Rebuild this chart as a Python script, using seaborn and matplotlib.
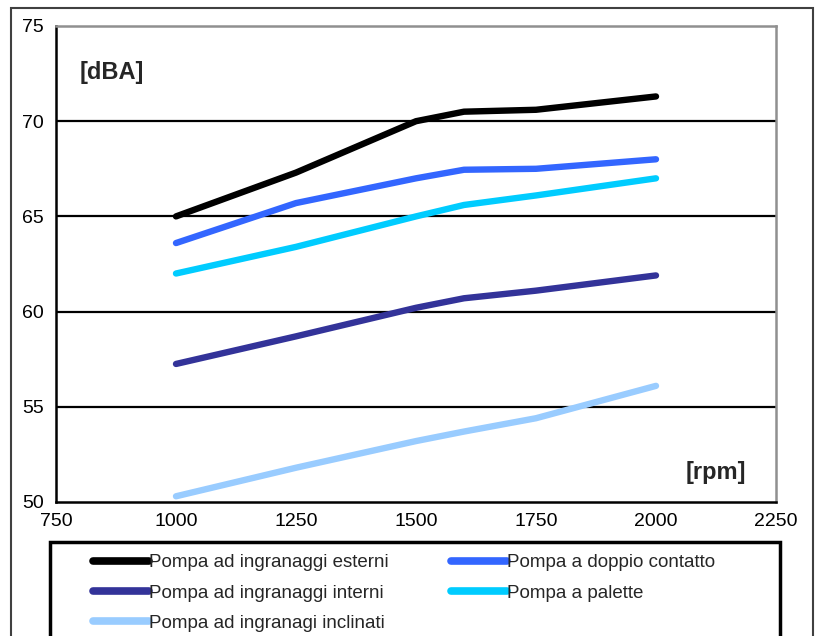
import numpy as np
import pandas as pd
import matplotlib
matplotlib.use("Agg")
import matplotlib.pyplot as plt
from matplotlib.patches import Rectangle
from matplotlib.lines import Line2D
import seaborn as sns

# %% data
rpm = [1000, 1250, 1500, 1600, 1750, 2000]
esterni = [65.0, 67.3, 70.0, 70.5, 70.6, 71.3]
doppio = [63.6, 65.7, 67.0, 67.45, 67.5, 68.0]
interni = [57.25, 58.7, 60.2, 60.7, 61.1, 61.9]
palette_v = [62.0, 63.4, 65.0, 65.6, 66.1, 67.0]
inclinati = [50.3, 51.8, 53.2, 53.7, 54.4, 56.1]

names = ['Pompa ad ingranaggi esterni', 'Pompa a doppio contatto',
         'Pompa ad ingranaggi interni', 'Pompa a palette',
         'Pompa ad ingranagi inclinati']
colors = ['#000000', '#3366FF', '#333399', '#00CCFF', '#99CCFF']
series = [esterni, doppio, interni, palette_v, inclinati]

df = pd.concat([pd.DataFrame({'rpm': rpm, 'dBA': s, 'pompa': n})
                for n, s in zip(names, series)], ignore_index=True)

# %% plot
sns.set_style('white')
plt.rcParams['font.family'] = ['Liberation Sans', 'DejaVu Sans']

fig = plt.figure(figsize=(8.18, 6.36), dpi=100)
ax = fig.add_axes([56/818, 1-502/636, 720/818, 476/636])

sns.lineplot(data=df, x='rpm', y='dBA', hue='pompa', hue_order=names,
             palette=dict(zip(names, colors)), linewidth=4.6,
             solid_capstyle='round', legend=False, ax=ax)

ax.set_xlim(750, 2250)
ax.set_ylim(50, 75)
ax.set_xticks(np.arange(750, 2251, 250))
ax.set_yticks(np.arange(50, 76, 5))
ax.set_xlabel('')
ax.set_ylabel('')
for y in [55, 60, 65, 70]:
    ax.axhline(y, color='black', lw=1.6, zorder=0)
ax.tick_params(axis='both', direction='out', length=5, width=1.5,
               labelsize=14, colors='black', pad=3)
ax.tick_params(axis='y', pad=4)
for side in ['top', 'right']:
    ax.spines[side].set_color('#909090')
    ax.spines[side].set_linewidth(1.8)
for side in ['left', 'bottom']:
    ax.spines[side].set_color('black')
    ax.spines[side].set_linewidth(1.8)

ax.text(80/818, 1-72/636, '[dBA]', transform=fig.transFigure, fontsize=17,
        fontweight='bold', va='center', ha='left')
ax.text(746/818, 1-472/636, '[rpm]', transform=fig.transFigure, fontsize=17,
        fontweight='bold', va='center', ha='right')

# legend (row-wise order in two columns)
handles = [Line2D([], [], color=c, lw=5.5) for c in colors]
order = [0, 2, 4, 1, 3]
fig.legend([handles[i] for i in order], [names[i] for i in order],
           loc='upper left', bbox_to_anchor=(80/818, 1-541/636), ncol=2,
           frameon=False, fontsize=13.5, handlelength=3.0, handletextpad=0.0,
           labelspacing=0.7, columnspacing=3.3, borderpad=0.2)
fig.patches.append(Rectangle((50/818, -0.05), 730/818, 0.05+1-542/636,
                             transform=fig.transFigure, fill=False,
                             edgecolor='black', lw=2.5))
# outer frame
fig.patches.append(Rectangle((11/818, -0.05), 802/818, 0.05+1-8/636,
                             transform=fig.transFigure, fill=False,
                             edgecolor='#404040', lw=1.5))

fig.savefig('out.png', dpi=100)
